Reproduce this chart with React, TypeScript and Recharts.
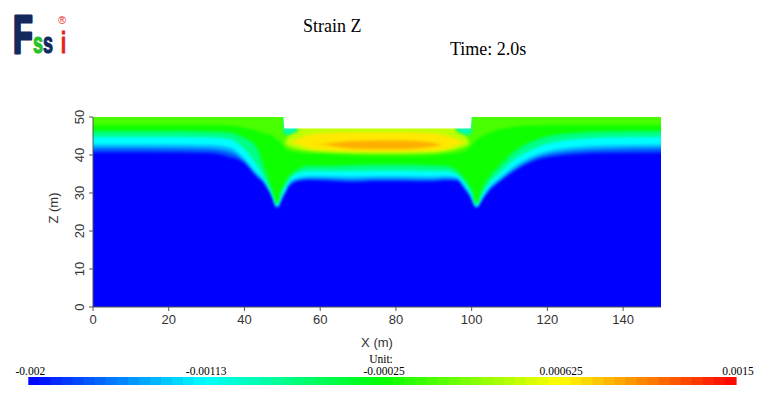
import React from 'react'
import { Area, ComposedChart, XAxis, YAxis } from 'recharts'

// sample positions along X (m); -5 and 155 run past the frame so the soft edges fall outside
const xs = [-5, 15, 30, 36, 40, 43, 45.5, 47.5, 48.6, 49.8, 50.3, 50.5, 51.5, 54, 57, 61, 68, 75, 82, 89, 93, 96, 98.5, 99.8, 100, 101.3, 102.5, 104.5, 107.5, 111, 116, 122, 135, 155]

// ground surface Z (m), the excavation between x=50 and x=100 sits at 47
const surface = [50, 50, 50, 50, 50, 50, 50, 50, 50, 50, 50, 47, 47, 47, 47, 47, 47, 47, 47, 47, 47, 47, 47, 47, 50, 50, 50, 50, 50, 50, 50, 50, 50, 50]

// Z (m) where the strain crosses each contour level (the region above is at or over the level)
const edge1 = [40.7, 40.7, 40.5, 39.5, 37.9, 34.6, 32.1, 28.6, 26.1, 28.4, 29.3, 29.6, 31.5, 33.1, 33.4, 33.2, 32.9, 33.1, 33.1, 33, 33.3, 33.3, 30.6, 28.8, 28.4, 26.1, 27.8, 30.5, 33.1, 35.6, 38.3, 39.7, 40.5, 40.7]
const edge2 = [41.8, 41.8, 41.6, 40.8, 38.4, 35, 32.5, 28.9, 26.3, 28.7, 29.6, 29.9, 31.9, 33.5, 33.9, 33.8, 33.5, 33.7, 33.7, 33.6, 33.8, 33.7, 31, 29.1, 28.7, 26.3, 28.1, 30.9, 33.5, 36.1, 38.9, 40.5, 41.5, 41.8]
const edgeB = [42.7, 42.7, 42.6, 42, 39, 35.5, 32.9, 29.2, 26.5, 29.1, 30, 30.3, 32.4, 34, 34.4, 34.4, 34.3, 34.4, 34.4, 34.3, 34.5, 34.2, 31.5, 29.5, 29.1, 26.5, 28.5, 31.4, 34, 36.8, 39.6, 41.4, 42.5, 42.7]
const edgeC = [44.8, 44.8, 44.7, 44.2, 41.5, 37.7, 33.5, 29.6, 26.8, 30, 30.9, 31.2, 33.2, 35.2, 35.8, 35.8, 35.8, 35.9, 35.9, 35.8, 35.8, 35, 32.4, 30.4, 30, 26.8, 29.2, 32.5, 35.3, 38.6, 41.5, 43.5, 44.6, 44.8]
const edgeD = [46.3, 46.3, 46.2, 45.9, 44.5, 42.5, 35.9, 30.3, 27.2, 31.2, 32, 32.3, 34, 36.2, 37.2, 37.1, 37.3, 37.5, 37.5, 37.3, 37.2, 36, 33.3, 31.4, 31, 27.2, 30.5, 34, 37.3, 40.8, 43.6, 45.3, 46.2, 46.3]
const edgeE = [47.8, 47.8, 47.8, 47.7, 47.2, 46.5, 45.5, 45, 44, 43, 42.5, 42, 41.3, 40.7, 40.4, 40.3, 39.9, 39.7, 39.7, 39.9, 40.2, 40.5, 41.2, 42.3, 42.6, 44, 44.8, 45.8, 46.8, 47.4, 47.7, 47.8, 47.8, 47.8]

// closed islands: lower and upper Z (m); equal values where the level is absent
const islandFLo = [43, 43, 43, 43, 43, 43, 43, 43, 43, 43, 43, 43, 42.4, 41.6, 41.1, 40.8, 40.5, 40.4, 40.4, 40.5, 40.9, 41.5, 42.4, 43, 43, 43, 43, 43, 43, 43, 43, 43, 43, 43]
const islandFHi = [43, 43, 43, 43, 43, 43, 43, 43, 43, 43, 43, 43, 45, 46.5, 55, 55, 55, 55, 55, 55, 55, 46.3, 45, 43, 43, 43, 43, 43, 43, 43, 43, 43, 43, 43]
const islandGLo = [43.3, 43.3, 43.3, 43.3, 43.3, 43.3, 43.3, 43.3, 43.3, 43.3, 43.3, 43.3, 43.3, 42.8, 41.7, 41.3, 41, 40.9, 40.9, 41.1, 41.5, 42.5, 43.2, 43.2, 43.2, 43.2, 43.2, 43.2, 43.2, 43.2, 43.2, 43.2, 43.2, 43.2]
const islandGHi = [43.3, 43.3, 43.3, 43.3, 43.3, 43.3, 43.3, 43.3, 43.3, 43.3, 43.3, 43.3, 43.3, 44.2, 45.4, 45.8, 46, 46, 46, 45.8, 45.2, 44.2, 43.2, 43.2, 43.2, 43.2, 43.2, 43.2, 43.2, 43.2, 43.2, 43.2, 43.2, 43.2]
const islandHLo = [42.7, 42.7, 42.7, 42.7, 42.7, 42.7, 42.7, 42.7, 42.7, 42.7, 42.7, 42.7, 42.7, 42.7, 42.7, 42.6, 41.7, 41.5, 41.5, 42.1, 42.7, 42.7, 42.7, 42.7, 42.7, 42.7, 42.7, 42.7, 42.7, 42.7, 42.7, 42.7, 42.7, 42.7]
const islandHHi = [42.7, 42.7, 42.7, 42.7, 42.7, 42.7, 42.7, 42.7, 42.7, 42.7, 42.7, 42.7, 42.7, 42.7, 42.7, 42.9, 43.6, 43.8, 43.8, 43.3, 42.7, 42.7, 42.7, 42.7, 42.7, 42.7, 42.7, 42.7, 42.7, 42.7, 42.7, 42.7, 42.7, 42.7]
// lower strain pockets at the inner corners of the excavation
const cornerLo = [46, 46, 46, 46, 46, 46, 46, 46, 46, 46, 46, 45.6, 45.2, 46.3, 46.3, 46.3, 46.3, 46.3, 46.3, 46.3, 46.3, 46.3, 45.2, 45.6, 46, 46, 46, 46, 46, 46, 46, 46, 46, 46]
const cornerHi = [46, 46, 46, 46, 46, 46, 46, 46, 46, 46, 46, 55, 55, 46.3, 46.3, 46.3, 46.3, 46.3, 46.3, 46.3, 46.3, 46.3, 55, 55, 46, 46, 46, 46, 46, 46, 46, 46, 46, 46]

const levelValues = [-0.0017, -0.0014, -0.00113, -0.0007, -0.0002, 0, 0.0004, 0.0007, 0.0009]
const cornerValue = -0.00085

const xTicks = [0, 20, 40, 60, 80, 100, 120, 140]
const yTicks = [0, 10, 20, 30, 40, 50]
const barTicks = [-0.002, -0.00113, -0.00025, 0.000625, 0.0015]
const barLabels = ['-0.002', '-0.00113', '-0.00025', '0.000625', '0.0015']

const VMIN = -0.002
const VMAX = 0.0015
const FLOOR = -5
const SKY = 55

// blue - cyan - green - yellow - red
function jet(v: number) {
  const t = Math.max(0, Math.min(1, (v - VMIN) / (VMAX - VMIN)))
  const stops = [
    [0, 0, 255],
    [0, 255, 255],
    [0, 255, 0],
    [255, 255, 0],
    [255, 0, 0],
  ]
  const s = Math.min(3, Math.floor(t * 4))
  const f = t * 4 - s
  const a = stops[s]
  const b = stops[s + 1]
  const c = a.map((k, i) => Math.round(k + (b[i] - k) * f))
  return `rgb(${c[0]},${c[1]},${c[2]})`
}

const table = xs.map((x, i) => ({
  x,
  base: [FLOOR, SKY],
  l1: [edge1[i], SKY],
  l2: [edge2[i], SKY],
  b: [edgeB[i], SKY],
  c: [edgeC[i], SKY],
  d: [edgeD[i], SKY],
  e: [edgeE[i], SKY],
  f: [islandFLo[i], islandFHi[i]],
  g: [islandGLo[i], islandGHi[i]],
  h: [islandHLo[i], islandHHi[i]],
  corner: [cornerLo[i], cornerHi[i]],
  notch: [surface[i], SKY],
}))

const bands = ['l1', 'l2', 'b', 'c', 'd', 'e', 'f', 'g', 'h']

const RotatedTick = (props: any) => {
  const { x, y, payload } = props
  return (
    <text
      x={x}
      y={y}
      transform={`rotate(-90 ${x} ${y})`}
      textAnchor="middle"
      dominantBaseline="central"
      fontSize={13}
      fill="#333"
    >
      {payload.value}
    </text>
  )
}

const BAR_X = 28.3
const BAR_W = 707.7
const STEPS = 64

export default function App() {
  return (
    <div
      style={{
        position: 'absolute',
        left: 0,
        top: 0,
        width: 768,
        height: 399,
        background: '#fff',
        fontFamily: '"Liberation Sans", Arial, sans-serif',
      }}
    >
      <style>{'.band .recharts-area-area { filter: url(#soften); }'}</style>
      <ComposedChart
        width={768}
        height={399}
        data={table}
        margin={{ top: 117, right: 107, bottom: 62, left: 0 }}
      >
        <defs>
          <filter id="soften" filterUnits="userSpaceOnUse" x="0" y="0" width="768" height="399">
            <feGaussianBlur stdDeviation="1.8" />
          </filter>
        </defs>
        <XAxis
          dataKey="x"
          type="number"
          domain={[0, 150]}
          ticks={xTicks}
          interval={0}
          allowDataOverflow
          height={30}
          tickSize={4}
          tickMargin={4}
          stroke="#555"
          tick={{ fill: '#333', fontSize: 13 }}
        />
        <YAxis
          type="number"
          domain={[0, 50]}
          ticks={yTicks}
          interval={0}
          allowDataOverflow
          width={93}
          tickSize={4}
          tickMargin={10}
          stroke="#555"
          tick={RotatedTick}
        />
        <Area
          dataKey="base"
          type="linear"
          fill={jet(VMIN)}
          fillOpacity={1}
          stroke="none"
          dot={false}
          activeDot={false}
          isAnimationActive={false}
        />
        {bands.map((k, i) => (
          <Area
            key={k}
            className="band"
            dataKey={k}
            type="monotone"
            fill={jet(levelValues[i])}
            fillOpacity={1}
            stroke="none"
            dot={false}
            activeDot={false}
            isAnimationActive={false}
          />
        ))}
        <Area
          className="band"
          dataKey="corner"
          type="linear"
          fill={jet(cornerValue)}
          fillOpacity={1}
          stroke="none"
          dot={false}
          activeDot={false}
          isAnimationActive={false}
        />
        <Area
          dataKey="notch"
          type="linear"
          fill="#fff"
          fillOpacity={1}
          stroke="none"
          dot={false}
          activeDot={false}
          isAnimationActive={false}
        />
      </ComposedChart>

      <svg
        width={768}
        height={399}
        style={{ position: 'absolute', left: 0, top: 0, pointerEvents: 'none' }}
      >
        {/* logo */}
        <g fontFamily='"Liberation Sans", Arial, sans-serif' fontWeight="bold" strokeLinejoin="round">
          <text transform="translate(13,53) scale(0.6,1)" fontSize={54} fill="#13295e" stroke="#13295e" strokeWidth={3}>F</text>
          <text transform="translate(33,53) scale(0.6,1)" fontSize={30} fill="#27c12a" stroke="#27c12a" strokeWidth={1.2}>s</text>
          <text transform="translate(43,53) scale(0.6,1)" fontSize={30} fill="#13295e" stroke="#13295e" strokeWidth={1.2}>s</text>
          <text transform="translate(61,53) scale(0.6,1)" fontSize={30} fill="#e3201c" stroke="#e3201c" strokeWidth={1.2}>i</text>
          <text x={58} y={24} fontSize={11} fontWeight="normal" fill="#e3201c">®</text>
        </g>

        <g fontFamily='"Liberation Serif", "Times New Roman", serif' fill="#000">
          <text x={303} y={32} fontSize={18}>Strain Z</text>
          <text x={450} y={55} fontSize={18}>Time: 2.0s</text>
        </g>

        <text x={377} y={347} fontSize={13} textAnchor="middle" fill="#333">X (m)</text>
        <text
          x={53}
          y={208}
          fontSize={13}
          textAnchor="middle"
          dominantBaseline="central"
          transform="rotate(-90 53 208)"
          fill="#333"
        >
          Z (m)
        </text>

        {/* colour bar */}
        {Array.from({ length: STEPS }, (_, k) => (
          <rect
            key={k}
            x={BAR_X + (BAR_W / STEPS) * k}
            y={377}
            width={BAR_W / STEPS + 0.6}
            height={8}
            fill={jet(VMIN + ((k + 0.5) / STEPS) * (VMAX - VMIN))}
          />
        ))}
        <g fontFamily='"Liberation Serif", "Times New Roman", serif' fill="#000" textAnchor="middle">
          <text x={381} y={362.5} fontSize={11.5}>Unit:</text>
          {barTicks.map((v, i) => (
            <text key={v} x={BAR_X + 2 + ((v - VMIN) / (VMAX - VMIN)) * BAR_W} y={375} fontSize={11.5}>
              {barLabels[i]}
            </text>
          ))}
        </g>
      </svg>
    </div>
  )
}
